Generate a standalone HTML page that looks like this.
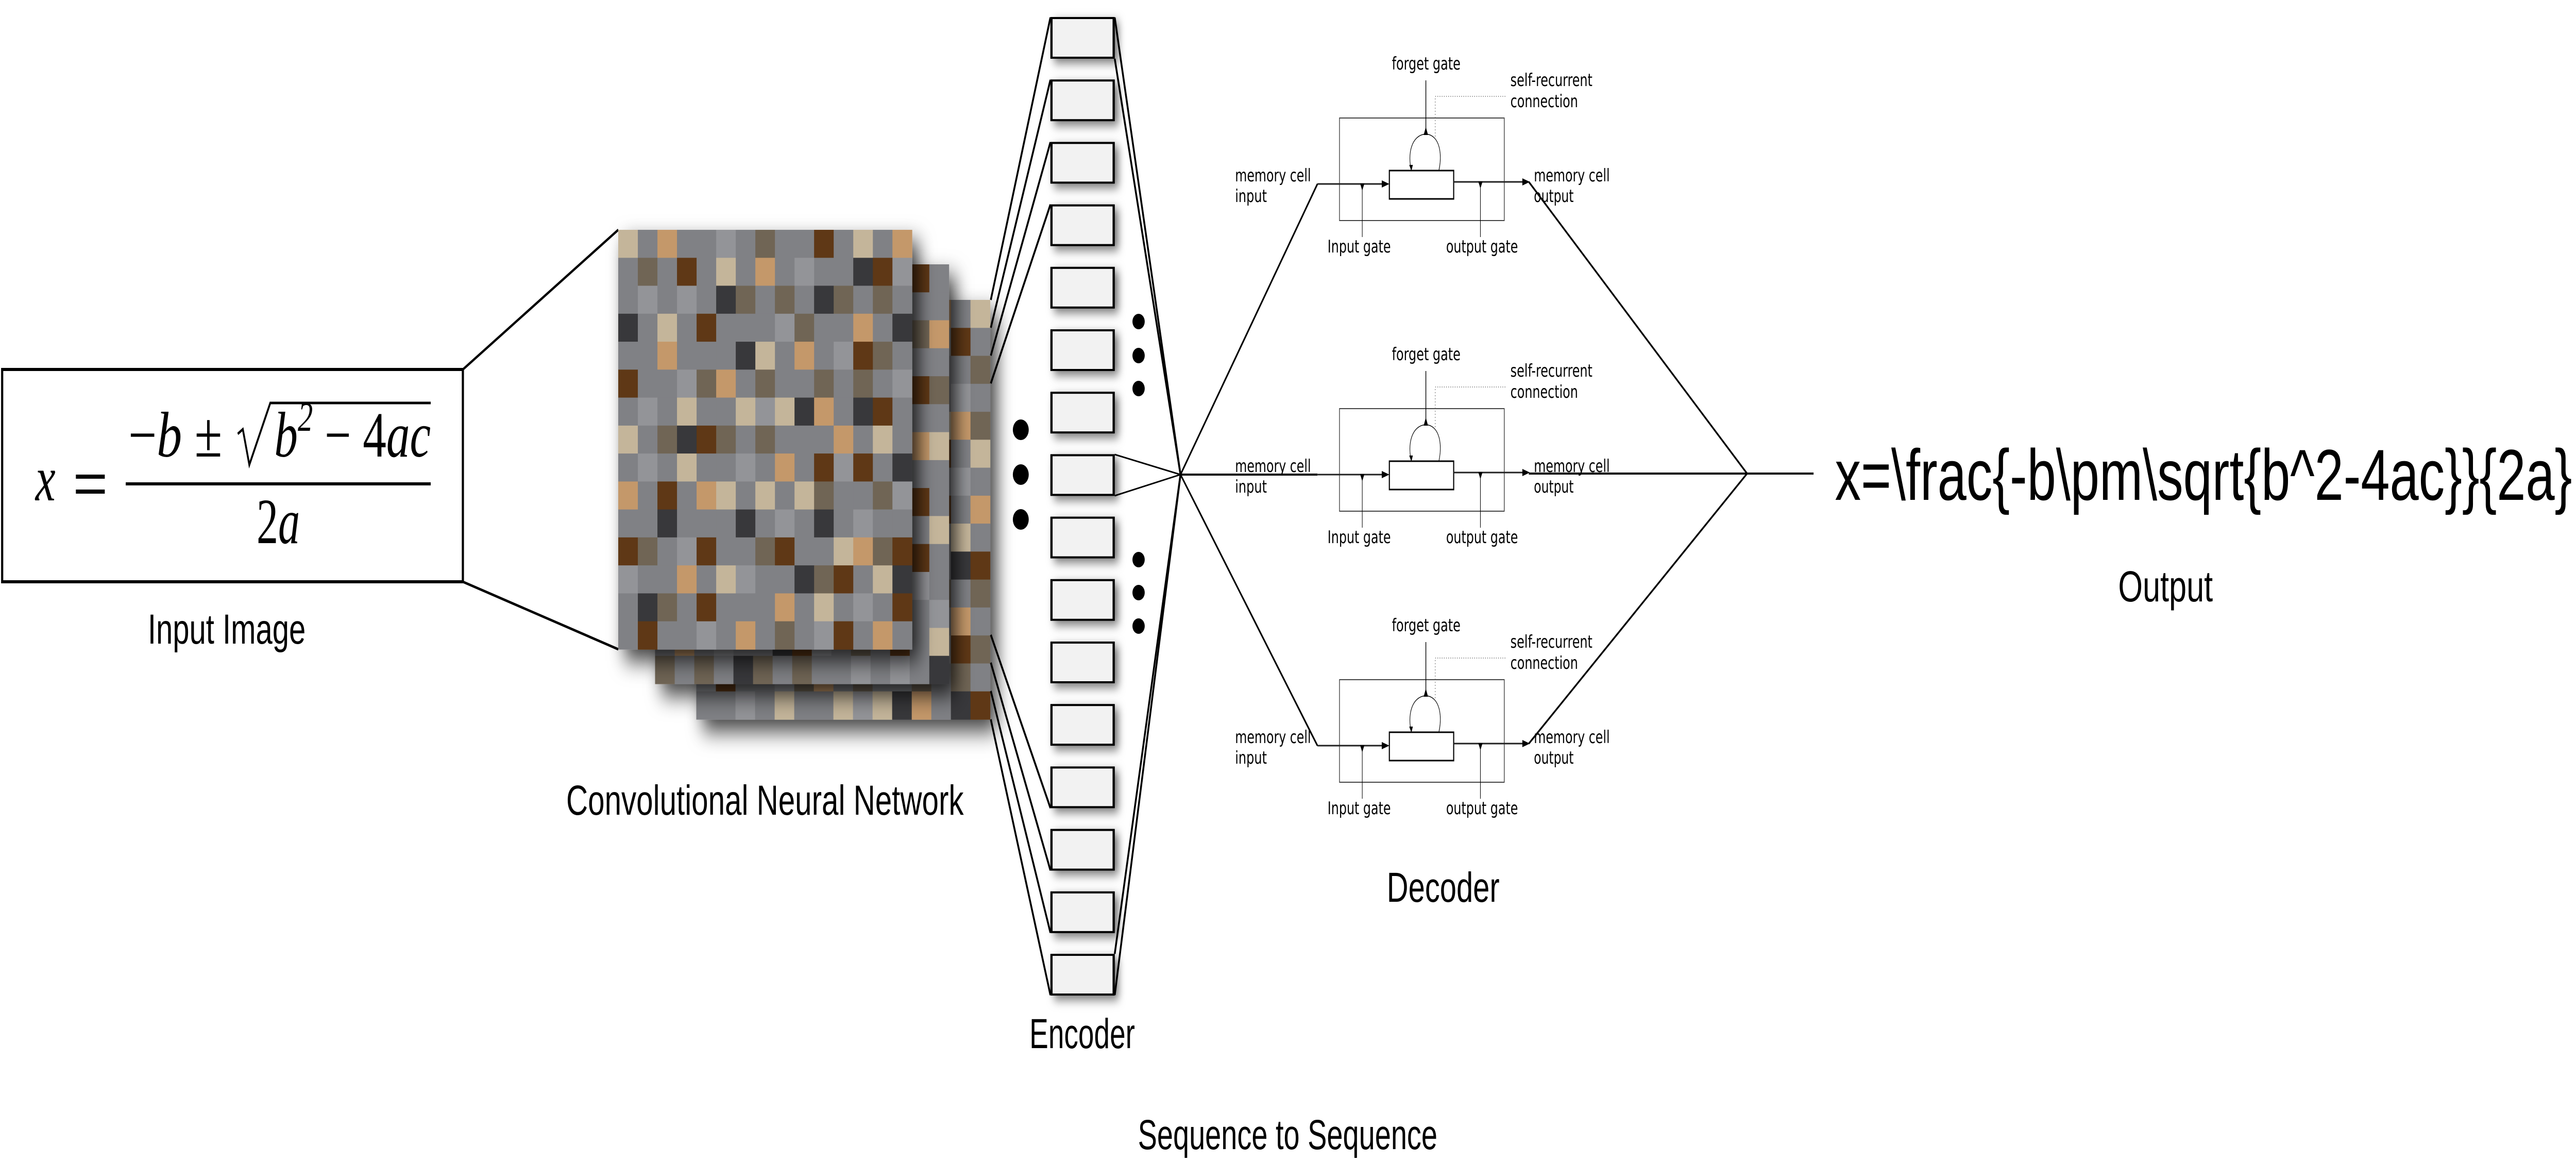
<!DOCTYPE html>
<html><head><meta charset="utf-8"><style>
html,body{margin:0;padding:0;background:#fff;overflow:hidden;width:100%;height:100%;}
svg{display:block;width:100vw;height:100vh;}
.lbl{font-family:"Liberation Sans",sans-serif;fill:#000;}
.sm{font-family:"DejaVu Sans Condensed","DejaVu Sans",sans-serif;font-size:34px;fill:#000;}
</style></head><body>
<svg id="s" viewBox="0 0 7129 2255" preserveAspectRatio="none" xmlns="http://www.w3.org/2000/svg">
<defs>
<filter id="sh" x="-20%" y="-20%" width="150%" height="150%"><feDropShadow dx="18" dy="22" stdDeviation="22" flood-color="#000" flood-opacity="0.75"/></filter>
<filter id="sh2" x="-20%" y="-40%" width="150%" height="200%"><feDropShadow dx="10" dy="8" stdDeviation="10" flood-color="#000" flood-opacity="0.55"/></filter>
</defs>
<rect width="7129" height="2255" fill="#fff"/>

<!-- input box -->
<rect x="6" y="717" width="1275" height="412" fill="#fff" stroke="#000" stroke-width="6"/>
<line x1="1281" y1="717" x2="1711" y2="446" stroke="#000" stroke-width="5"/>
<line x1="1281" y1="1129" x2="1711" y2="1260" stroke="#000" stroke-width="5"/>
<g font-family="Liberation Serif,serif" font-style="italic" font-size="125" fill="#000">
<text x="98" y="971">x</text>
<text x="355" y="886" textLength="260" lengthAdjust="spacingAndGlyphs"><tspan font-style="normal">−</tspan>b <tspan font-style="normal">±</tspan></text>
<text x="759" y="886" textLength="433" lengthAdjust="spacingAndGlyphs">b<tspan font-size="80" dy="-50">2</tspan><tspan dy="50" font-style="normal"> − 4</tspan>ac</text>
<text x="710" y="1054" textLength="120" lengthAdjust="spacingAndGlyphs"><tspan font-style="normal">2</tspan>a</text>
</g>
<rect x="210" y="921" width="80" height="8" fill="#000"/>
<rect x="210" y="950" width="80" height="8" fill="#000"/>
<rect x="348" y="936" width="844" height="6" fill="#000"/>
<polyline points="658,842 672,833 690,902 748,782 1192,782" fill="none" stroke="#000" stroke-width="5"/>
<text class="lbl" x="409" y="1249" font-size="82" textLength="437" lengthAdjust="spacingAndGlyphs">Input Image</text>

<g id="cnn"></g>

<g stroke="#000" stroke-width="5" fill="none">
<line x1="2742" y1="582" x2="2907" y2="34"/>
<line x1="2742" y1="636" x2="2907" y2="155"/>
<line x1="2742" y1="690" x2="2907" y2="276"/>
<line x1="2742" y1="744" x2="2907" y2="397"/>
<line x1="2742" y1="1232" x2="2907" y2="1568"/>
<line x1="2742" y1="1286" x2="2907" y2="1689"/>
<line x1="2742" y1="1341" x2="2907" y2="1810"/>
<line x1="2742" y1="1396" x2="2907" y2="1931"/>
</g>

<g id="enc"></g>

<g stroke="#000" fill="none">
<line x1="3085" y1="34" x2="3267" y2="921" stroke-width="5"/>
<line x1="3085" y1="114" x2="3267" y2="921" stroke-width="5"/>
<line x1="3085" y1="882" x2="3267" y2="921" stroke-width="3"/>
<line x1="3085" y1="962" x2="3267" y2="921" stroke-width="3"/>
<line x1="3085" y1="1851" x2="3267" y2="921" stroke-width="5"/>
<line x1="3085" y1="1931" x2="3267" y2="921" stroke-width="5"/>
</g>
<g fill="#000">
<ellipse cx="2825" cy="834" rx="22" ry="20"/>
<ellipse cx="2825" cy="921" rx="22" ry="20"/>
<ellipse cx="2825" cy="1008" rx="22" ry="20"/>
<ellipse cx="3151" cy="624" rx="17" ry="15"/>
<ellipse cx="3151" cy="690" rx="17" ry="15"/>
<ellipse cx="3151" cy="754" rx="17" ry="15"/>
<ellipse cx="3151" cy="1086" rx="17" ry="15"/>
<ellipse cx="3151" cy="1150" rx="17" ry="15"/>
<ellipse cx="3151" cy="1215" rx="17" ry="15"/>
</g>

<g stroke="#000" stroke-width="4" fill="none">
<line x1="3267" y1="921" x2="3646" y2="357"/>
<line x1="3267" y1="921" x2="3646" y2="921"/>
<line x1="3267" y1="921" x2="3646" y2="1447"/>
<line x1="4231" y1="353" x2="4835" y2="919"/>
<line x1="4231" y1="919" x2="5019" y2="919"/>
<line x1="4231" y1="1443" x2="4835" y2="919"/>
</g>

<g id="cells"></g>

<text class="lbl" x="5078" y="970" font-size="140" textLength="2040" lengthAdjust="spacingAndGlyphs">x=\frac{-b\pm\sqrt{b^2-4ac}}{2a}</text>
<text class="lbl" x="5862" y="1167" font-size="84" textLength="262" lengthAdjust="spacingAndGlyphs">Output</text>
<text class="lbl" x="1567" y="1581" font-size="82" textLength="1100" lengthAdjust="spacingAndGlyphs">Convolutional Neural Network</text>
<text class="lbl" x="2849" y="2034" font-size="82" textLength="292" lengthAdjust="spacingAndGlyphs">Encoder</text>
<text class="lbl" x="3838" y="1750" font-size="82" textLength="312" lengthAdjust="spacingAndGlyphs">Decoder</text>
<text class="lbl" x="3149" y="2230" font-size="82" textLength="829" lengthAdjust="spacingAndGlyphs">Sequence to Sequence</text>
</svg>
<script>
(function(){
var NS="http://www.w3.org/2000/svg";
var P={G:"#808185",L:"#939498",D:"#38383a",B:"#5e3714",T:"#c4b59a",O:"#c4986a",M:"#706555"};
var rows=["TGOGGLGMGGBGTGO","GMGBGTGOGLGGDBL","GLGLGDMGMGDMGMG","DGTGBGGGLMGGOGD","GGOGGGDTGOGLBMG","BGGLMOGMGGMGMGL","GLGTGGTLTDOGDBG","TGMDBMGMGGGOGTG","GLGTGGLGOGBLBGD","OGBGOTGTGTMGGML","GGDGGGDGLGDGLGG","BMGLBGGMBGGTOMB","LGGOGTLGGDMBGTD","GDMGBGGGOGTGLGB","GBGGLGOGMGLBGOG"];
function el(n,a,p){var e=document.createElementNS(NS,n);for(var k in a)e.setAttribute(k,a[k]);p.appendChild(e);return e;}
var cnn=document.getElementById("cnn");
var layers=[[1927,582,7],[1813,513,3],[1711,446,0]];
var cs=813/15;
layers.forEach(function(L){
  var g=el("g",{filter:"url(#sh)"},cnn);
  el("rect",{x:L[0],y:L[1],width:813,height:814,fill:"#808185"},g);
  for(var r=0;r<15;r++)for(var c=0;c<15;c++){
    var ch=rows[(r+L[2])%15].charAt((c+L[2]*2)%15);
    el("rect",{x:(L[0]+c*cs).toFixed(1),y:(L[1]+r*814/15).toFixed(1),width:(cs+0.6).toFixed(1),height:(814/15+0.6).toFixed(1),fill:P[ch]},g);
  }
});
var enc=document.getElementById("enc");
for(var i=0;i<16;i++){
  var y=33.5+i*121.2;
  el("rect",{x:2909,y:y+1.5,width:174,height:77,fill:"#f2f2f2",stroke:"#000","stroke-width":4,filter:"url(#sh2)"},enc);
  el("rect",{x:2907,y:y,width:6,height:80,fill:"#000"},enc);
  el("rect",{x:3079,y:y,width:6,height:80,fill:"#000"},enc);
}
var cells=document.getElementById("cells");
[0,564,1090].forEach(function(o){
  var g=el("g",{transform:"translate(0,"+o+")"},cells);
  el("rect",{x:3707,y:229,width:456,height:199,fill:"none",stroke:"#444","stroke-width":2},g);
  el("rect",{x:3845,y:331,width:178,height:55,fill:"#fff",stroke:"#000","stroke-width":3},g);
  el("line",{x1:3646,y1:357,x2:3826,y2:357,stroke:"#222","stroke-width":3},g);
  el("polygon",{points:"3824,350 3845,357 3824,364",fill:"#000"},g);
  el("line",{x1:4023,y1:353,x2:4214,y2:353,stroke:"#222","stroke-width":3},g);
  el("polygon",{points:"4213,346 4234,353 4213,360",fill:"#000"},g);
  el("line",{x1:3770,y1:357,x2:3770,y2:460,stroke:"#000","stroke-width":1.5},g);
  el("polygon",{points:"3764,356 3776,356 3770,370",fill:"#000"},g);
  el("line",{x1:4097,y1:353,x2:4097,y2:460,stroke:"#000","stroke-width":1.5},g);
  el("polygon",{points:"4091,352 4103,352 4097,366",fill:"#000"},g);
  el("line",{x1:3946,y1:156,x2:3946,y2:262,stroke:"#000","stroke-width":2},g);
  el("polygon",{points:"3940,262 3952,262 3946,246",fill:"#000"},g);
  el("path",{d:"M3906 331 C3895 300 3905 262 3946 260 C3985 262 3992 300 3982 331",fill:"none",stroke:"#000","stroke-width":1.5},g);
  el("polygon",{points:"3900,320 3910,320 3906,332",fill:"#000"},g);
  el("polyline",{points:"3972,265 3972,187 4168,187",fill:"none",stroke:"#666","stroke-width":1.5,"stroke-dasharray":"2,4"},g);
  var T=[["forget gate",3852,135,190],["self-recurrent",4180,167,227],["connection",4180,208,187],["memory cell",3418,352,210],["input",3418,392,88],["memory cell",4245,352,210],["output",4245,392,110],["Input gate",3674,490,175],["output gate",4002,490,199]];
  T.forEach(function(t){var e=el("text",{"class":"sm",x:t[1],y:t[2],textLength:t[3],lengthAdjust:"spacingAndGlyphs"},g);e.textContent=t[0];});
});
})();
</script>
</body></html>
